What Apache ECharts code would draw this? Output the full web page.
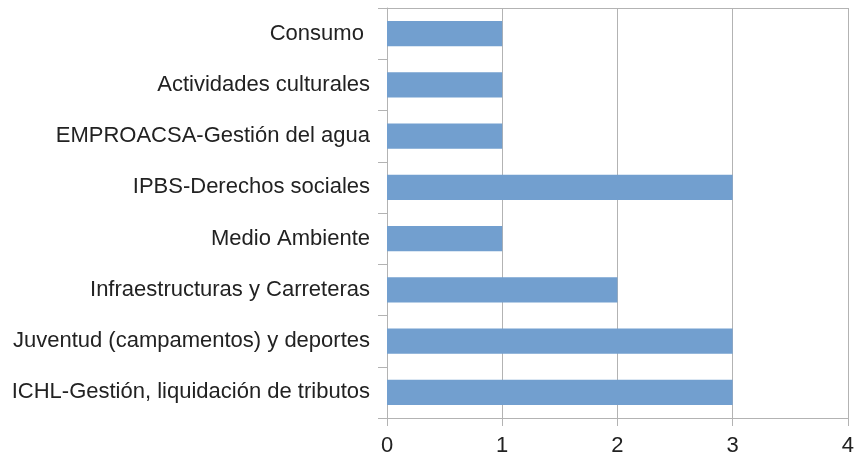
<!DOCTYPE html>
<html><head><meta charset="utf-8">
<script src="https://cdn.jsdelivr.net/npm/echarts@6/dist/echarts.min.js"></script>
<style>html,body{margin:0;padding:0;background:#fff}#c{width:857px;height:457px}</style>
</head><body><div id="c"></div>
<script>
const categories = ["Consumo ", "Actividades culturales", "EMPROACSA-Gestión del agua", "IPBS-Derechos sociales", "Medio Ambiente", "Infraestructuras y Carreteras", "Juventud (campamentos) y deportes", "ICHL-Gestión, liquidación de tributos"];
const values = [1, 1, 1, 3, 1, 2, 3, 3];
const xTicks = [0, 1, 2, 3, 4];

const chart = echarts.init(document.getElementById('c'), null, {renderer: 'canvas'});
const gridColor = '#b3b3b3';
chart.setOption({
  animation: false,
  grid: {left: 387, right: 8, top: 8, bottom: 39, containLabel: false},
  xAxis: [{
    type: 'value', min: xTicks[0], max: xTicks[xTicks.length - 1], interval: 1,
    axisLine: {show: true, lineStyle: {color: gridColor, width: 1}},
    axisTick: {show: true, length: 8, lineStyle: {color: gridColor}},
    splitLine: {show: true, lineStyle: {color: gridColor, width: 1}},
    axisLabel: {color: '#222', fontFamily: 'Liberation Sans', fontSize: 22, margin: 17}
  }, {
    type: 'value', position: 'top', min: 0, max: 4,
    axisLine: {show: true, lineStyle: {color: gridColor}},
    axisTick: {show: false}, axisLabel: {show: false}, splitLine: {show: false}
  }],
  yAxis: {
    type: 'category', data: categories, inverse: true,
    axisLine: {show: true, lineStyle: {color: gridColor, width: 1}},
    axisTick: {show: true, length: 9, lineStyle: {color: gridColor}},
    axisLabel: {color: '#222', fontFamily: 'Liberation Sans', fontSize: 22, margin: 17}
  },
  series: [{
    type: 'bar', data: values, xAxisIndex: 0,
    barWidth: '49%',
    itemStyle: {color: '#729fcf'}
  }]
});
</script></body></html>
